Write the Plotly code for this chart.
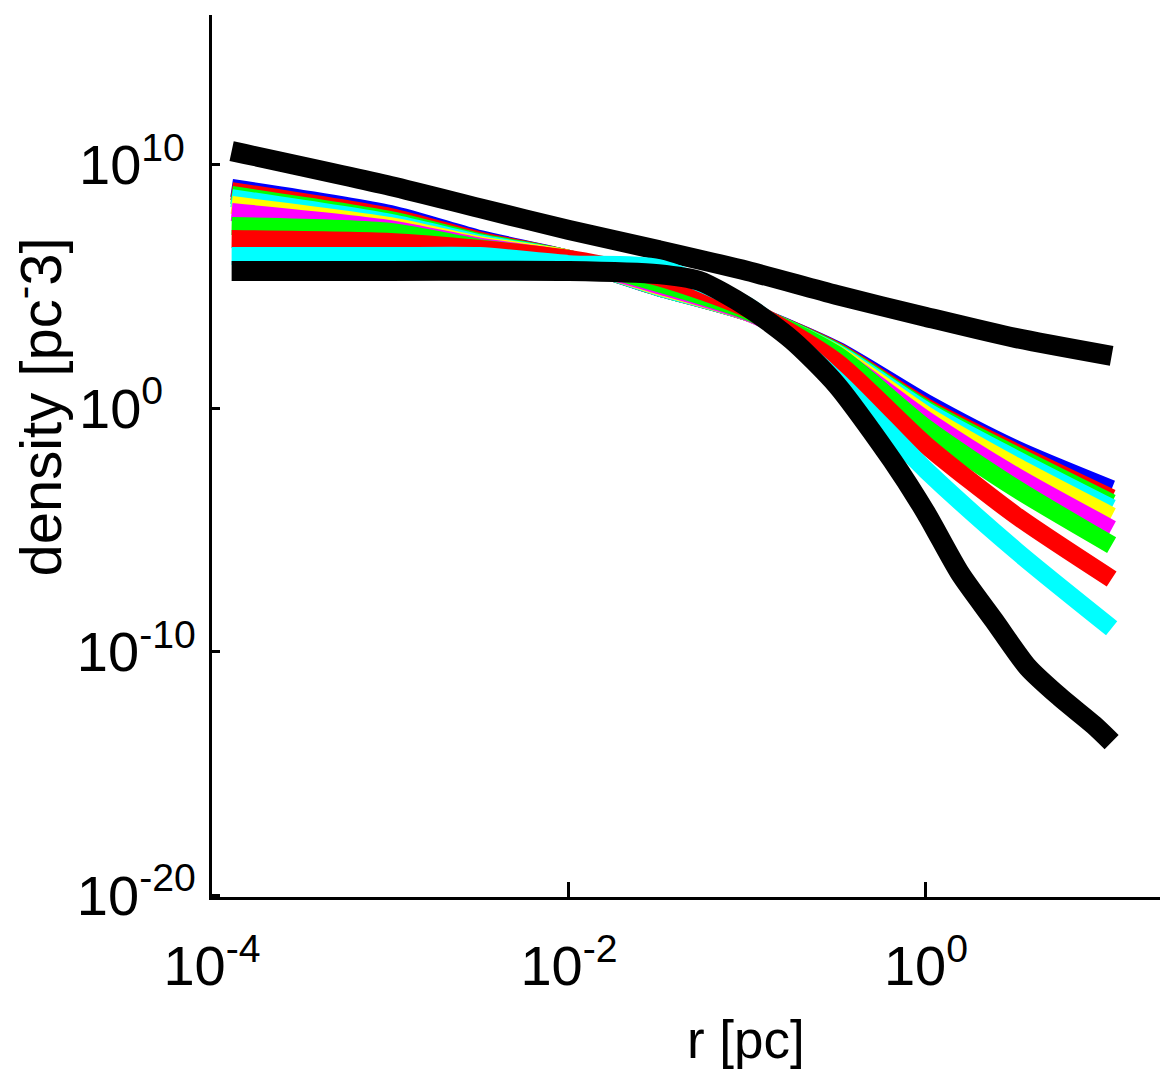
import numpy as np
import plotly.graph_objects as go

# radius sample points, log10(r / pc)
log_r = [-3.89, -3.0, -2.5, -2.0, -1.5, -1.0, -0.5, 0.0, 0.5, 1.04]

# log10(density / pc^-3)
top_black = [10.55, 9.12, 8.21, 7.31, 6.49, 5.63, 4.64, 3.74, 2.88, 2.14]
blue = [9.04, 7.97, 6.94, 6.12, 4.97, 3.94, 2.38, 0.21, -1.68, -3.33]
red = [8.91, 7.84, 6.88, 6.12, 4.97, 3.94, 2.34, 0.04, -1.81, -3.70]
green = [8.75, 7.72, 6.82, 6.12, 4.97, 3.94, 2.30, -0.04, -1.93, -3.90]
cyan = [8.62, 7.60, 6.76, 6.12, 4.97, 3.94, 2.26, -0.12, -2.09, -4.11]
yellow = [8.34, 7.47, 6.69, 6.12, 5.01, 3.94, 2.22, -0.29, -2.38, -4.44]
magenta = [8.05, 7.35, 6.63, 6.08, 5.05, 3.94, 2.14, -0.49, -2.79, -4.97]
green2 = [7.47, 7.23, 6.57, 6.08, 5.13, 3.98, 2.18, -0.82, -3.29, -5.63]
red2 = [6.94, 6.82, 6.53, 6.12, 5.38, 4.07, 1.89, -1.52, -4.39, -7.02]
cyan2 = [6.24, 6.24, 6.24, 5.91, 5.75, 4.19, 1.15, -2.55, -5.83, -9.04]

# cored profile (black), its own sample points
log_r_core = [-3.89, -3.0, -2.0, -1.5, -1.27, -1.0, -0.75, -0.5, -0.19, 0.0,
              0.19, 0.38, 0.57, 0.75, 0.94, 1.04]
core_black = [5.63, 5.63, 5.63, 5.50, 5.22, 4.15, 2.79, 0.95, -2.14, -4.31,
              -6.78, -8.71, -10.64, -11.87, -13.02, -13.72]

x_tickvals = [1e-4, 1e-2, 1]
x_ticktext = ["10<sup>-4</sup>", "10<sup>-2</sup>", "10<sup>0</sup>"]
y_tickvals = [1e-20, 1e-10, 1, 1e10]
y_ticktext = ["10<sup>-20</sup>", "10<sup>-10</sup>",
              "10<sup>0\u2008\u2007</sup>", "10<sup>10\u2008</sup>"]

series = [
    (top_black, "black", 20, log_r),
    (blue, "rgb(0,0,255)", 18, log_r),
    (red, "rgb(255,0,0)", 18, log_r),
    (green, "rgb(0,255,0)", 18, log_r),
    (cyan, "rgb(0,255,255)", 18, log_r),
    (yellow, "rgb(255,255,0)", 18, log_r),
    (magenta, "rgb(255,0,255)", 18, log_r),
    (green2, "rgb(0,255,0)", 18, log_r),
    (red2, "rgb(255,0,0)", 18, log_r),
    (cyan2, "rgb(0,255,255)", 18, log_r),
    (core_black, "black", 20, log_r_core),
]

fig = go.Figure()
for vals, col, w, xs in series:
    fig.add_trace(go.Scatter(
        x=10 ** np.array(xs), y=10 ** np.array(vals), mode="lines",
        line=dict(color=col, width=w, shape="spline", smoothing=0.7),
        hoverinfo="skip"))

font_family = "Liberation Sans, Arial, Helvetica, sans-serif"
fig.update_layout(
    width=1162, height=1080,
    margin=dict(l=212, r=2, t=15, b=183),
    paper_bgcolor="white", plot_bgcolor="white",
    showlegend=False,
    font=dict(family=font_family, color="black"),
    xaxis=dict(type="log", range=[-4, 1.311], showline=True, linecolor="black",
               linewidth=3, ticks="inside", ticklen=15, tickwidth=3,
               tickcolor="black", tickvals=x_tickvals, ticktext=x_ticktext,
               tickfont=dict(size=56, family=font_family, color="black"),
               showgrid=False, zeroline=False, ticklabelstandoff=18),
    yaxis=dict(type="log", range=[-20.08, 16.14], showline=True, linecolor="black",
               linewidth=3, ticks="inside", ticklen=8, tickwidth=3,
               tickcolor="black", tickvals=y_tickvals, ticktext=y_ticktext,
               tickfont=dict(size=56, family=font_family, color="black"),
               showgrid=False, zeroline=False, ticklabelstandoff=2),
    annotations=[
        dict(text="density [pc<sup>-</sup>3]", xref="paper", yref="paper",
             x=-0.185, y=0.5556, textangle=-90, showarrow=False,
             xanchor="center", yanchor="middle",
             font=dict(size=58, family=font_family, color="black")),
        dict(text="r [pc]", xref="paper", yref="paper",
             x=0.5633, y=-0.162, showarrow=False,
             xanchor="center", yanchor="middle",
             font=dict(size=53, family=font_family, color="black")),
    ],
)

fig.write_html("out.html")
